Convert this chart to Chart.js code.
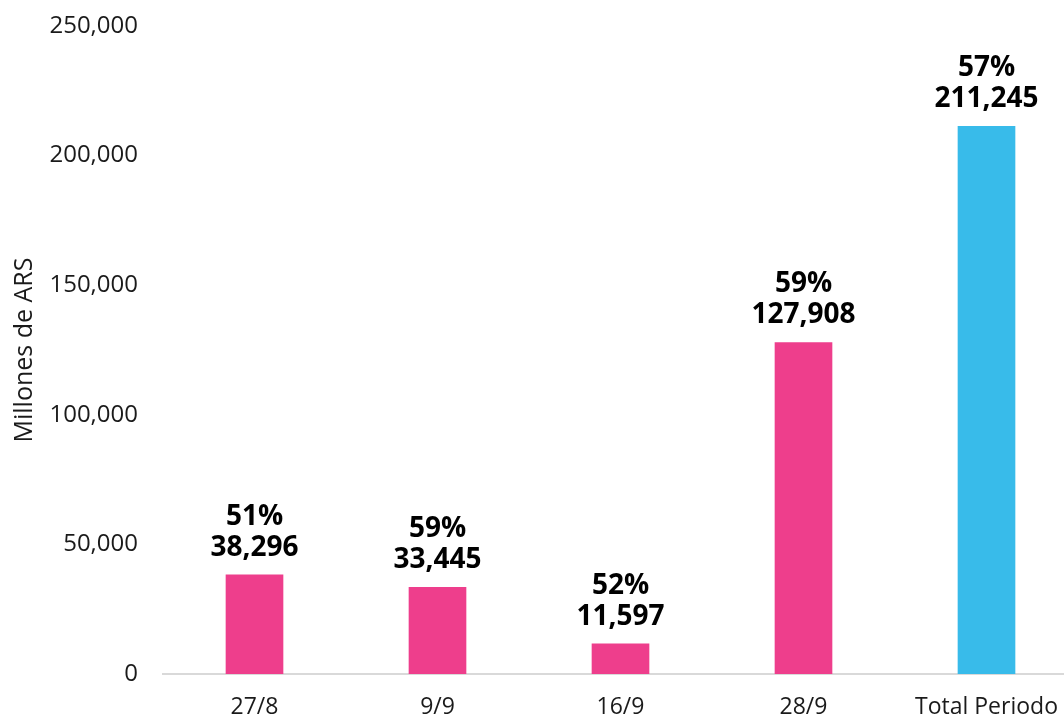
<!DOCTYPE html>
<html>
<head>
<meta charset="utf-8">
<script src="https://cdn.jsdelivr.net/npm/chart.js@4/dist/chart.umd.min.js"></script>
<style>
  html, body { margin: 0; padding: 0; overflow: hidden; background: #ffffff; width: 1064px; height: 718px; }
  canvas { display: block; }
</style>
</head>
<body>
<canvas id="c" width="1078" height="718"></canvas>
<script>
const categories = ["27/8", "9/9", "16/9", "28/9", "Total Periodo"];
const values = [38296, 33445, 11597, 127908, 211245];
const percents = ["51%", "59%", "52%", "59%", "57%"];
const barColors = ["#EE3E8C", "#EE3E8C", "#EE3E8C", "#EE3E8C", "#38BBEA"];
const yTicks = [0, 50000, 100000, 150000, 200000, 250000];
const yTitle = "Millones de ARS";

const fontFamily = "'Open Sans', 'Noto Sans', sans-serif";
const fmt = v => v.toLocaleString("en-US");

const labelPlugin = {
  id: "barLabels",
  afterDatasetsDraw(chart) {
    const ctx = chart.ctx;
    const meta = chart.getDatasetMeta(0);
    ctx.save();
    ctx.fillStyle = "#000000";
    ctx.font = "bold 28px " + fontFamily;
    ctx.textAlign = "center";
    ctx.textBaseline = "middle";
    meta.data.forEach((bar, i) => {
      ctx.fillText(fmt(values[i]), bar.x, bar.y - 27);
      ctx.fillText(percents[i], bar.x, bar.y - 58);
    });
    ctx.restore();
  }
};

new Chart(document.getElementById("c"), {
  type: "bar",
  data: {
    labels: categories,
    datasets: [{
      data: values,
      backgroundColor: barColors,
      barThickness: 57
    }]
  },
  options: {
    responsive: false,
    animation: false,
    layout: { padding: { top: 26, left: 0, right: 0, bottom: 0 } },
    plugins: { legend: { display: false }, tooltip: { enabled: false } },
    scales: {
      x: {
        grid: { display: false, drawTicks: true, tickLength: 20 },
        border: { display: true, color: "#d9d9d9", width: 2 },
        ticks: { color: "#1a1a1a", font: { family: fontFamily, size: 23 }, padding: 0 },
        afterFit(scale) { scale.height = 44; }
      },
      y: {
        min: 0,
        max: 250000,
        grid: { display: false, drawTicks: true, tickLength: 25 },
        border: { display: false },
        afterBuildTicks(scale) { scale.ticks = yTicks.map(v => ({ value: v })); },
        ticks: {
          color: "#1a1a1a",
          font: { family: fontFamily, size: 24 },
          padding: 0,
          callback: v => fmt(v)
        },
        title: {
          display: true,
          text: yTitle,
          color: "#1a1a1a",
          font: { family: fontFamily, size: 25 },
          padding: { top: 10, bottom: 0 }
        },
        afterFit(scale) { scale.width = 163; }
      }
    }
  },
  plugins: [labelPlugin]
});
</script>
</body>
</html>
